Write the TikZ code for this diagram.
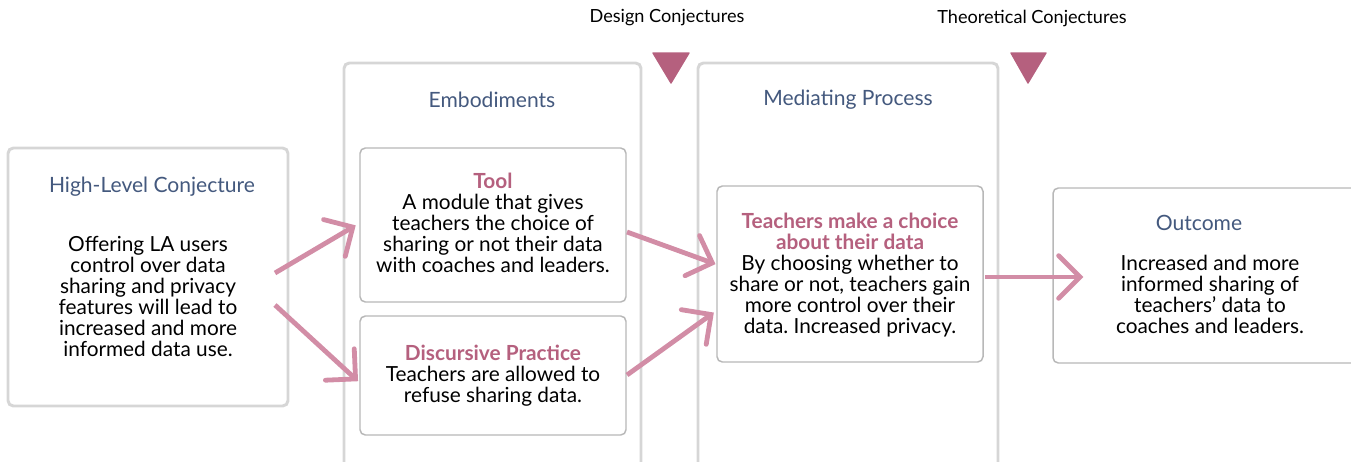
\documentclass[tikz,border=0pt]{standalone}
\usepackage{fontspec}
\setmainfont{Lato}
\frenchspacing
\usetikzlibrary{arrows.meta}
\definecolor{ttl}{HTML}{44597E}
\definecolor{pinkt}{HTML}{B5607E}
\definecolor{arr}{HTML}{D28DA6}
\definecolor{outerb}{HTML}{D6D6D6}
\definecolor{innerb}{HTML}{B8B8B8}
\tikzset{
  outerbox/.style={draw=outerb, line width=2.2pt, rounded corners=4pt, fill=white},
  innerbox/.style={draw=innerb, line width=1.1pt, rounded corners=4pt, fill=white},
  ttltext/.style={text=ttl, font=\fontsize{15.8}{18}\selectfont},
  bodytext/.style={align=center, font=\fontsize{15.6}{15.75}\selectfont, text=black, inner sep=0pt},
  conn/.style={draw=arr, line width=3.6pt, -{Straight Barb[length=16pt,width=32pt,line cap=round]}, shorten >=2pt},
  tri/.style={fill=pinkt, draw=pinkt, line width=1pt, line join=round},
  toplabel/.style={font=\fontsize{13.6}{15}\selectfont, text=black}
}
\begin{document}
\begin{tikzpicture}[x=0.75pt,y=-0.75pt]
\useasboundingbox (0,0) rectangle (1351,461);
\clip (0,0) rectangle (1351,461);
% outer containers
\draw[outerbox] (8,148) rectangle (288,406);
\draw[outerbox] (344,63) rectangle (641,475);
\draw[outerbox] (698,63) rectangle (998,475);
% inner boxes
\draw[innerbox] (360,148) rectangle (626,302);
\draw[innerbox] (360,316) rectangle (626,435);
\draw[innerbox] (717,186) rectangle (983,362);
\draw[innerbox] (1053,188) rectangle (1365,363);
% triangles
\draw[tri] (653,53) -- (689,53) -- (671,83) -- cycle;
\draw[tri] (1011,53) -- (1046,53) -- (1028,83) -- cycle;
% top labels
\node[toplabel] (dc) at (667,18) {Design Conjectures};
\node[toplabel] (tc) at (1032,18) {Theoretical Conjectures};
% titles
\node[ttltext] (hlt) at (152,187) {High-Level Conjecture};
\node[ttltext] (emt) at (492,100) {Embodiments};
\node[ttltext] (mpt) at (848,100) {Mediating Process};
\node[ttltext] (out) at (1199,223) {Outcome};
% body texts
\node[bodytext] (hl) at (148,296) {Offering LA users\\control over data\\sharing and privacy\\features will lead to\\increased and more\\informed data use.};
\node[bodytext] (tool) at (493,223) {{\color{pinkt}\bfseries Tool}\\A module that gives\\teachers the choice of\\sharing or not their data\\with coaches and leaders.};
\node[bodytext] (disc) at (493,376) {{\color{pinkt}\bfseries Discursive Practice}\\Teachers are allowed to\\refuse sharing data.};
\node[bodytext] (tm) at (850,275) {{\color{pinkt}\bfseries Teachers make a choice}\\{\color{pinkt}\bfseries about their data}\\By choosing whether to\\share or not, teachers gain\\more control over their\\data. Increased privacy.};
\node[bodytext] (oc) at (1210,294) {Increased and more\\informed sharing of\\teachers’ data to\\coaches and leaders.};
% anchor coordinates for connectors
\coordinate (a1s) at (275,273); \coordinate (a1e) at (358,224);
\coordinate (a2s) at (275,305); \coordinate (a2e) at (360,383);
\coordinate (a3s) at (627,232); \coordinate (a3e) at (718,265);
\coordinate (a4s) at (627,375); \coordinate (a4e) at (716,311);
\coordinate (a5s) at (985,277); \coordinate (a5e) at (1086,277);
\draw[conn] (a1s) -- (a1e);
\draw[conn] (a2s) -- (a2e);
\draw[conn] (a3s) -- (a3e);
\draw[conn] (a4s) -- (a4e);
\draw[conn] (a5s) -- (a5e);
\end{tikzpicture}
\end{document}
